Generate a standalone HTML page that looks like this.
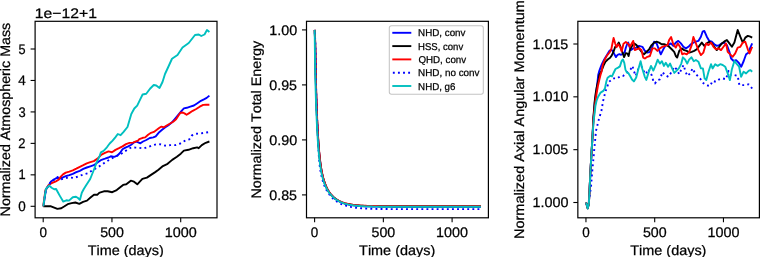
<!DOCTYPE html>
<html><head><meta charset="utf-8"><style>
html,body{margin:0;padding:0;background:#fff;}
svg{display:block;}
text{font-family:"Liberation Sans",sans-serif;fill:#000;font-kerning:none;text-rendering:geometricPrecision;stroke:#000;stroke-width:0.25px;}
svg{will-change:transform;}
</style></head><body>
<svg width="760" height="257" viewBox="0 0 760 257">
<rect x="35.10" y="21.30" width="181.90" height="196.50" fill="none" stroke="#000" stroke-width="1.2" stroke-linejoin="miter"/>
<line x1="43.20" y1="217.80" x2="43.20" y2="222.30" stroke="#000" stroke-width="1.1"/>
<text x="39.44" y="237.00" font-size="13.8" textLength="7.50" lengthAdjust="spacingAndGlyphs">0</text>
<line x1="111.95" y1="217.80" x2="111.95" y2="222.30" stroke="#000" stroke-width="1.1"/>
<text x="100.15" y="237.00" font-size="13.8" textLength="23.72" lengthAdjust="spacingAndGlyphs">500</text>
<line x1="180.70" y1="217.80" x2="180.70" y2="222.30" stroke="#000" stroke-width="1.1"/>
<text x="164.72" y="237.00" font-size="13.8" textLength="31.98" lengthAdjust="spacingAndGlyphs">1000</text>
<text x="87.69" y="254.50" font-size="13.8" textLength="76.14" lengthAdjust="spacingAndGlyphs">Time (days)</text>
<rect x="306.50" y="21.30" width="181.90" height="196.50" fill="none" stroke="#000" stroke-width="1.2" stroke-linejoin="miter"/>
<line x1="314.60" y1="217.80" x2="314.60" y2="222.30" stroke="#000" stroke-width="1.1"/>
<text x="310.84" y="237.00" font-size="13.8" textLength="7.50" lengthAdjust="spacingAndGlyphs">0</text>
<line x1="383.35" y1="217.80" x2="383.35" y2="222.30" stroke="#000" stroke-width="1.1"/>
<text x="371.55" y="237.00" font-size="13.8" textLength="23.72" lengthAdjust="spacingAndGlyphs">500</text>
<line x1="452.10" y1="217.80" x2="452.10" y2="222.30" stroke="#000" stroke-width="1.1"/>
<text x="436.12" y="237.00" font-size="13.8" textLength="31.98" lengthAdjust="spacingAndGlyphs">1000</text>
<text x="359.09" y="254.50" font-size="13.8" textLength="76.14" lengthAdjust="spacingAndGlyphs">Time (days)</text>
<rect x="577.85" y="21.30" width="181.55" height="196.50" fill="none" stroke="#000" stroke-width="1.2" stroke-linejoin="miter"/>
<line x1="585.95" y1="217.80" x2="585.95" y2="222.30" stroke="#000" stroke-width="1.1"/>
<text x="582.19" y="237.00" font-size="13.8" textLength="7.50" lengthAdjust="spacingAndGlyphs">0</text>
<line x1="654.70" y1="217.80" x2="654.70" y2="222.30" stroke="#000" stroke-width="1.1"/>
<text x="642.90" y="237.00" font-size="13.8" textLength="23.72" lengthAdjust="spacingAndGlyphs">500</text>
<line x1="723.45" y1="217.80" x2="723.45" y2="222.30" stroke="#000" stroke-width="1.1"/>
<text x="707.47" y="237.00" font-size="13.8" textLength="31.98" lengthAdjust="spacingAndGlyphs">1000</text>
<text x="630.27" y="254.50" font-size="13.8" textLength="76.14" lengthAdjust="spacingAndGlyphs">Time (days)</text>
<line x1="30.60" y1="206.30" x2="35.10" y2="206.30" stroke="#000" stroke-width="1.1"/>
<text x="18.27" y="210.90" font-size="13.8" textLength="7.50" lengthAdjust="spacingAndGlyphs">0</text>
<line x1="30.60" y1="174.84" x2="35.10" y2="174.84" stroke="#000" stroke-width="1.1"/>
<text x="18.38" y="179.44" font-size="13.8" textLength="7.17" lengthAdjust="spacingAndGlyphs">1</text>
<line x1="30.60" y1="143.38" x2="35.10" y2="143.38" stroke="#000" stroke-width="1.1"/>
<text x="18.24" y="147.98" font-size="13.8" textLength="7.23" lengthAdjust="spacingAndGlyphs">2</text>
<line x1="30.60" y1="111.92" x2="35.10" y2="111.92" stroke="#000" stroke-width="1.1"/>
<text x="18.44" y="116.52" font-size="13.8" textLength="7.21" lengthAdjust="spacingAndGlyphs">3</text>
<line x1="30.60" y1="80.46" x2="35.10" y2="80.46" stroke="#000" stroke-width="1.1"/>
<text x="18.27" y="85.06" font-size="13.8" textLength="7.51" lengthAdjust="spacingAndGlyphs">4</text>
<line x1="30.60" y1="49.00" x2="35.10" y2="49.00" stroke="#000" stroke-width="1.1"/>
<text x="18.43" y="53.60" font-size="13.8" textLength="7.08" lengthAdjust="spacingAndGlyphs">5</text>
<line x1="302.00" y1="29.90" x2="306.50" y2="29.90" stroke="#000" stroke-width="1.1"/>
<text x="269.31" y="34.50" font-size="13.8" textLength="27.90" lengthAdjust="spacingAndGlyphs">1.00</text>
<line x1="302.00" y1="84.90" x2="306.50" y2="84.90" stroke="#000" stroke-width="1.1"/>
<text x="269.29" y="89.50" font-size="13.8" textLength="27.69" lengthAdjust="spacingAndGlyphs">0.95</text>
<line x1="302.00" y1="139.90" x2="306.50" y2="139.90" stroke="#000" stroke-width="1.1"/>
<text x="269.28" y="144.50" font-size="13.8" textLength="27.93" lengthAdjust="spacingAndGlyphs">0.90</text>
<line x1="302.00" y1="194.90" x2="306.50" y2="194.90" stroke="#000" stroke-width="1.1"/>
<text x="269.29" y="199.50" font-size="13.8" textLength="27.69" lengthAdjust="spacingAndGlyphs">0.85</text>
<line x1="573.35" y1="44.00" x2="577.85" y2="44.00" stroke="#000" stroke-width="1.1"/>
<text x="532.52" y="48.60" font-size="13.8" textLength="35.81" lengthAdjust="spacingAndGlyphs">1.015</text>
<line x1="573.35" y1="96.83" x2="577.85" y2="96.83" stroke="#000" stroke-width="1.1"/>
<text x="532.52" y="101.43" font-size="13.8" textLength="36.05" lengthAdjust="spacingAndGlyphs">1.010</text>
<line x1="573.35" y1="149.67" x2="577.85" y2="149.67" stroke="#000" stroke-width="1.1"/>
<text x="532.52" y="154.27" font-size="13.8" textLength="35.81" lengthAdjust="spacingAndGlyphs">1.005</text>
<line x1="573.35" y1="202.50" x2="577.85" y2="202.50" stroke="#000" stroke-width="1.1"/>
<text x="532.52" y="207.10" font-size="13.8" textLength="36.05" lengthAdjust="spacingAndGlyphs">1.000</text>
<text transform="translate(9.90,119.55) rotate(-90)" x="-96.86" y="0" font-size="13.8" textLength="193.69" lengthAdjust="spacingAndGlyphs">Normalized Atmospheric Mass</text>
<text transform="translate(260.60,119.55) rotate(-90)" x="-78.95" y="0" font-size="13.8" textLength="157.62" lengthAdjust="spacingAndGlyphs">Normalized Total Energy</text>
<text transform="translate(523.50,119.55) rotate(-90)" x="-119.43" y="0" font-size="13.8" textLength="238.80" lengthAdjust="spacingAndGlyphs">Normalized Axial Angular Momentum</text>
<text x="34.80" y="17.70" font-size="13.8" textLength="62.17" lengthAdjust="spacingAndGlyphs">1e−12+1</text>
<path d="M43.40,206.30 L45.90,189.60 L48.70,185.40 L51.00,181.50 L53.60,179.80 L56.10,178.20 L58.00,177.80 L60.00,178.60 L62.90,177.40 L65.80,176.20 L69.30,175.10 L72.80,173.90 L76.30,172.20 L79.80,170.80 L83.30,168.90 L86.80,167.50 L90.30,166.30 L93.80,165.20 L97.50,162.50 L101.50,159.80 L105.00,158.70 L108.50,157.50 L110.80,156.30 L114.30,156.90 L117.20,155.70 L120.20,152.80 L122.50,149.30 L125.40,147.60 L128.30,146.40 L131.20,144.70 L134.20,142.30 L136.50,141.70 L140.40,143.30 L143.00,141.50 L146.30,140.00 L149.80,138.00 L153.30,137.40 L155.70,136.30 L158.60,132.80 L162.10,129.80 L165.00,127.50 L168.50,125.20 L172.00,122.30 L175.60,118.00 L178.70,114.30 L181.60,110.80 L183.90,108.40 L186.80,107.80 L190.30,106.70 L193.90,105.50 L197.40,103.20 L200.90,100.80 L204.40,99.10 L206.70,97.90 L209.40,95.60" fill="none" stroke="#0000ff" stroke-width="1.9" stroke-linejoin="round"/>
<path d="M43.30,206.30 L47.10,206.30 L51.00,206.30 L54.20,207.60 L57.40,208.90 L61.30,208.30 L64.50,206.30 L67.70,204.20 L71.60,203.10 L75.40,202.50 L79.30,203.80 L83.10,201.80 L87.00,200.60 L90.80,197.30 L94.00,194.80 L97.20,194.80 L99.20,192.80 L100.50,192.40 L103.90,191.30 L107.70,191.30 L112.20,192.20 L116.70,190.10 L119.90,187.50 L123.10,184.90 L126.30,184.30 L130.80,180.70 L134.00,181.70 L137.30,184.30 L139.80,181.70 L142.40,178.90 L146.90,177.60 L151.40,174.60 L155.20,172.10 L158.50,169.80 L162.90,166.10 L167.60,163.80 L172.20,159.90 L176.90,156.80 L180.80,153.70 L183.90,150.60 L188.50,149.80 L193.20,148.20 L197.10,147.40 L198.70,148.20 L201.80,145.10 L205.70,142.80 L209.40,141.50" fill="none" stroke="#000000" stroke-width="1.9" stroke-linejoin="round"/>
<path d="M43.20,206.30 L45.40,190.30 L48.50,185.30 L51.80,183.00 L55.30,181.70 L58.70,179.60 L60.80,176.60 L63.00,174.40 L65.80,172.60 L69.30,171.60 L72.80,170.40 L76.30,168.70 L79.80,166.90 L83.30,165.20 L86.80,163.40 L90.30,162.20 L93.80,161.10 L97.50,158.60 L101.50,154.60 L105.00,152.80 L108.50,151.40 L112.00,152.20 L115.50,149.90 L119.00,148.20 L122.50,146.40 L126.00,144.10 L129.50,142.90 L133.00,142.60 L135.30,141.70 L138.00,140.60 L139.30,139.20 L142.80,137.80 L145.20,137.40 L148.10,134.70 L151.00,132.80 L153.90,131.90 L156.80,129.80 L159.80,127.50 L161.50,126.60 L163.90,127.30 L166.20,125.80 L169.70,123.80 L173.20,121.70 L176.10,119.30 L178.50,115.60 L180.40,112.70 L182.80,112.50 L184.50,113.40 L186.60,114.80 L189.20,113.10 L192.70,110.80 L196.20,109.00 L199.70,106.70 L203.20,104.90 L206.10,104.70 L209.40,104.70" fill="none" stroke="#ff0000" stroke-width="1.9" stroke-linejoin="round"/>
<path d="M43.40,206.30 L45.90,189.60 L48.70,185.40 L51.00,181.50 L54.60,179.30 L57.50,177.00 L60.40,179.50 L64.00,178.40 L68.70,177.40 L74.00,178.00 L78.70,176.20 L83.30,174.50 L88.00,173.30 L92.10,170.40 L98.60,166.80 L103.60,163.40 L109.00,160.00 L114.00,157.10 L118.50,155.00 L123.00,152.80 L127.50,149.50 L131.50,147.30 L135.50,147.60 L139.00,147.80 L143.80,148.40 L148.80,146.70 L152.50,145.30 L155.30,144.60 L160.40,144.30 L165.00,145.60 L170.30,145.10 L175.20,145.10 L180.40,143.50 L184.50,141.00 L189.40,139.30 L191.80,135.50 L196.10,133.80 L201.00,133.40 L205.80,132.60 L209.40,132.00" fill="none" stroke="#0000ff" stroke-width="1.9" stroke-linejoin="round" stroke-dasharray="1.9,3.2" stroke-dashoffset="1.88"/>
<path d="M43.30,206.30 L45.90,189.00 L49.10,185.60 L51.60,187.70 L54.20,189.30 L56.10,189.00 L58.00,192.50 L60.00,196.10 L63.20,201.60 L66.40,200.30 L69.00,200.60 L72.80,197.30 L76.00,196.70 L78.00,198.00 L79.90,199.90 L81.80,192.80 L83.80,189.00 L86.30,185.10 L90.20,179.00 L93.60,170.50 L96.90,161.80 L99.40,156.70 L100.90,152.30 L103.60,150.80 L106.90,147.30 L109.70,143.50 L112.60,140.60 L115.50,137.10 L117.80,134.00 L120.60,135.20 L123.60,131.80 L127.50,127.00 L129.40,120.50 L131.30,114.00 L134.30,108.50 L137.20,105.60 L140.10,99.70 L142.60,94.50 L146.25,93.75 L150.00,88.75 L153.75,85.00 L156.25,85.50 L159.50,88.00 L162.50,82.00 L165.00,74.00 L168.25,67.00 L172.00,58.75 L177.50,55.00 L182.50,47.50 L188.75,43.00 L195.00,35.00 L198.75,34.50 L201.25,36.00 L204.50,34.50 L207.00,30.00 L209.40,32.00" fill="none" stroke="#00bfbf" stroke-width="1.9" stroke-linejoin="round"/>
<path d="M314.70,29.90 L315.09,40.99 L315.30,50.10 L315.40,57.76 L315.50,64.32 L315.60,70.06 L315.70,75.18 L315.80,79.80 L315.90,84.04 L316.00,87.96 L316.10,91.63 L316.20,95.08 L316.30,98.35 L316.40,101.45 L316.50,104.41 L316.60,107.23 L316.70,109.94 L316.80,112.53 L316.90,115.02 L317.00,117.42 L317.10,119.72 L317.20,121.94 L317.30,124.07 L317.40,126.12 L317.50,128.10 L317.60,130.01 L317.70,131.85 L317.80,133.63 L317.90,135.34 L318.00,136.99 L318.10,138.58 L318.20,140.12 L318.30,141.61 L318.40,143.04 L318.50,144.43 L318.60,145.77 L318.70,147.06 L318.80,148.31 L318.90,149.53 L319.00,150.70 L319.10,151.83 L319.20,152.92 L319.30,153.99 L319.40,155.01 L319.50,156.01 L319.60,156.97 L319.70,157.91 L319.80,158.81 L319.90,159.69 L320.00,160.54 L320.10,161.36 L320.20,162.17 L320.30,162.94 L320.40,163.70 L320.40,163.70 L320.65,165.49 L320.90,167.16 L321.15,168.72 L321.40,170.18 L321.65,171.54 L321.90,172.82 L322.15,174.02 L322.40,175.15 L322.65,176.22 L322.90,177.22 L323.15,178.18 L323.40,179.08 L323.65,179.94 L323.90,180.75 L324.15,181.53 L324.40,182.27 L324.65,182.98 L324.90,183.66 L325.15,184.31 L325.40,184.93 L325.64,185.53 L325.87,186.10 L326.11,186.65 L326.34,187.19 L326.58,187.70 L326.81,188.19 L327.05,188.67 L327.29,189.14 L327.53,189.58 L327.77,190.02 L328.01,190.44 L328.24,190.84 L328.48,191.24 L328.72,191.62 L328.96,191.99 L329.20,192.35 L329.44,192.70 L329.69,193.04 L329.93,193.38 L330.17,193.70 L330.41,194.01 L330.65,194.32 L330.89,194.62 L331.14,194.91 L331.38,195.19 L331.62,195.46 L331.86,195.73 L332.11,195.99 L332.35,196.25 L332.59,196.50 L332.84,196.74 L333.08,196.97 L333.32,197.20 L333.57,197.43 L333.81,197.65 L334.06,197.86 L334.30,198.07 L334.55,198.27 L334.79,198.47 L335.04,198.67 L335.28,198.86 L335.53,199.04 L335.77,199.22 L336.02,199.40 L336.26,199.57 L336.51,199.74 L336.75,199.90 L337.00,200.06 L337.25,200.22 L337.50,200.37 L337.75,200.52 L338.00,200.66 L338.25,200.80 L338.50,200.94 L338.75,201.08 L339.00,201.21 L339.25,201.34 L339.50,201.46 L339.75,201.59 L340.00,201.71 L341.00,202.16 L342.00,202.57 L343.00,202.95 L344.00,203.29 L345.00,203.60 L346.00,203.88 L347.00,204.13 L348.00,204.37 L349.00,204.58 L350.00,204.77 L351.00,204.95 L352.00,205.11 L353.00,205.25 L354.00,205.39 L355.00,205.51 L356.00,205.62 L357.00,205.72 L358.00,205.81 L359.00,205.89 L360.00,205.96 L361.00,206.03 L362.00,206.09 L363.00,206.15 L364.00,206.20 L365.00,206.25 L366.00,206.29 L367.00,206.33 L368.00,206.36 L369.00,206.39 L370.00,206.42 L371.00,206.45 L372.00,206.47 L373.00,206.50 L374.00,206.52 L375.00,206.53 L376.00,206.55 L377.00,206.56 L378.00,206.58 L379.00,206.59 L380.00,206.60 L381.00,206.61 L382.00,206.62 L383.00,206.63 L384.00,206.64 L385.00,206.64 L386.00,206.65 L387.00,206.66 L388.00,206.66 L389.00,206.67 L390.00,206.67 L391.00,206.67 L392.00,206.68 L393.00,206.68 L394.00,206.68 L395.00,206.69 L396.00,206.69 L397.00,206.69 L398.00,206.69 L399.00,206.69 L400.00,206.69 L404.00,206.70 L408.00,206.70 L412.00,206.71 L416.00,206.71 L420.00,206.71 L424.00,206.71 L428.00,206.71 L432.00,206.71 L436.00,206.71 L440.00,206.71 L444.00,206.71 L448.00,206.71 L452.00,206.71 L456.00,206.71 L460.00,206.71 L464.00,206.71 L468.00,206.71 L472.00,206.71 L476.00,206.71 L480.00,206.71 L480.80,206.71" fill="none" stroke="#0000ff" stroke-width="1.9" stroke-linejoin="round"/>
<path d="M314.70,29.90 L315.09,40.99 L315.30,50.10 L315.40,57.75 L315.50,64.32 L315.60,70.06 L315.70,75.17 L315.80,79.79 L315.90,84.03 L316.00,87.95 L316.10,91.62 L316.20,95.06 L316.30,98.33 L316.40,101.43 L316.50,104.38 L316.60,107.21 L316.70,109.91 L316.80,112.51 L316.90,115.00 L317.00,117.39 L317.10,119.69 L317.20,121.90 L317.30,124.03 L317.40,126.09 L317.50,128.07 L317.60,129.97 L317.70,131.81 L317.80,133.58 L317.90,135.29 L318.00,136.94 L318.10,138.54 L318.20,140.07 L318.30,141.56 L318.40,142.99 L318.50,144.38 L318.60,145.71 L318.70,147.01 L318.80,148.26 L318.90,149.47 L319.00,150.64 L319.10,151.77 L319.20,152.86 L319.30,153.92 L319.40,154.95 L319.50,155.94 L319.60,156.90 L319.70,157.84 L319.80,158.74 L319.90,159.62 L320.00,160.47 L320.10,161.29 L320.20,162.09 L320.30,162.87 L320.40,163.62 L320.40,163.62 L320.65,165.41 L320.90,167.08 L321.15,168.63 L321.40,170.08 L321.65,171.44 L321.90,172.72 L322.15,173.92 L322.40,175.04 L322.65,176.11 L322.90,177.11 L323.15,178.06 L323.40,178.96 L323.65,179.82 L323.90,180.63 L324.15,181.40 L324.40,182.14 L324.65,182.85 L324.90,183.52 L325.15,184.17 L325.40,184.79 L325.64,185.38 L325.87,185.95 L326.11,186.50 L326.35,187.03 L326.58,187.54 L326.82,188.04 L327.06,188.51 L327.29,188.97 L327.53,189.42 L327.77,189.85 L328.01,190.27 L328.25,190.67 L328.49,191.06 L328.73,191.44 L328.97,191.81 L329.21,192.17 L329.45,192.52 L329.69,192.86 L329.93,193.19 L330.17,193.51 L330.41,193.82 L330.66,194.12 L330.90,194.42 L331.14,194.70 L331.38,194.98 L331.63,195.26 L331.87,195.52 L332.11,195.78 L332.36,196.03 L332.60,196.28 L332.84,196.52 L333.09,196.75 L333.33,196.98 L333.57,197.21 L333.82,197.42 L334.06,197.63 L334.31,197.84 L334.55,198.04 L334.80,198.24 L335.04,198.43 L335.29,198.62 L335.53,198.80 L335.78,198.98 L336.02,199.15 L336.27,199.32 L336.51,199.49 L336.76,199.65 L337.01,199.81 L337.25,199.96 L337.50,200.11 L337.75,200.26 L338.00,200.40 L338.25,200.54 L338.50,200.68 L338.75,200.81 L339.00,200.95 L339.25,201.07 L339.50,201.20 L339.75,201.32 L340.00,201.44 L341.00,201.88 L342.00,202.29 L343.00,202.66 L344.00,202.99 L345.00,203.30 L346.00,203.57 L347.00,203.82 L348.00,204.05 L349.00,204.26 L350.00,204.45 L351.00,204.62 L352.00,204.77 L353.00,204.92 L354.00,205.04 L355.00,205.16 L356.00,205.27 L357.00,205.36 L358.00,205.45 L359.00,205.53 L360.00,205.60 L361.00,205.66 L362.00,205.72 L363.00,205.78 L364.00,205.83 L365.00,205.87 L366.00,205.91 L367.00,205.95 L368.00,205.98 L369.00,206.01 L370.00,206.03 L371.00,206.06 L372.00,206.08 L373.00,206.10 L374.00,206.12 L375.00,206.13 L376.00,206.15 L377.00,206.16 L378.00,206.17 L379.00,206.18 L380.00,206.19 L381.00,206.20 L382.00,206.21 L383.00,206.22 L384.00,206.22 L385.00,206.23 L386.00,206.23 L387.00,206.24 L388.00,206.24 L389.00,206.25 L390.00,206.25 L391.00,206.25 L392.00,206.25 L393.00,206.26 L394.00,206.26 L395.00,206.26 L396.00,206.26 L397.00,206.26 L398.00,206.26 L399.00,206.26 L400.00,206.27 L404.00,206.27 L408.00,206.27 L412.00,206.27 L416.00,206.27 L420.00,206.27 L424.00,206.27 L428.00,206.27 L432.00,206.26 L436.00,206.26 L440.00,206.26 L444.00,206.26 L448.00,206.26 L452.00,206.26 L456.00,206.26 L460.00,206.26 L464.00,206.26 L468.00,206.26 L472.00,206.26 L476.00,206.26 L480.00,206.26 L480.80,206.26" fill="none" stroke="#000000" stroke-width="1.9" stroke-linejoin="round"/>
<path d="M314.70,29.90 L315.17,40.99 L315.40,50.10 L315.50,57.75 L315.60,64.31 L315.70,70.05 L315.80,75.16 L315.90,79.79 L316.00,84.02 L316.10,87.95 L316.20,91.61 L316.30,95.06 L316.40,98.32 L316.50,101.42 L316.60,104.38 L316.70,107.20 L316.80,109.91 L316.90,112.50 L317.00,114.99 L317.10,117.38 L317.20,119.68 L317.30,121.90 L317.40,124.03 L317.50,126.08 L317.60,128.06 L317.70,129.96 L317.80,131.80 L317.90,133.57 L318.00,135.28 L318.10,136.93 L318.20,138.53 L318.30,140.06 L318.40,141.55 L318.50,142.98 L318.60,144.36 L318.70,145.70 L318.80,147.00 L318.90,148.25 L319.00,149.45 L319.10,150.62 L319.20,151.75 L319.30,152.85 L319.40,153.91 L319.50,154.93 L319.60,155.93 L319.70,156.89 L319.80,157.82 L319.90,158.72 L320.00,159.60 L320.10,160.45 L320.20,161.27 L320.30,162.07 L320.40,162.85 L320.50,163.60 L320.50,163.60 L320.75,165.39 L321.00,167.06 L321.25,168.61 L321.50,170.06 L321.75,171.42 L322.00,172.70 L322.25,173.89 L322.50,175.02 L322.75,176.08 L323.00,177.09 L323.25,178.04 L323.50,178.94 L323.75,179.79 L324.00,180.60 L324.25,181.38 L324.50,182.11 L324.75,182.82 L325.00,183.49 L325.25,184.14 L325.50,184.76 L325.74,185.35 L325.97,185.92 L326.20,186.47 L326.43,187.00 L326.67,187.51 L326.90,188.00 L327.13,188.48 L327.37,188.94 L327.60,189.38 L327.84,189.81 L328.08,190.23 L328.31,190.63 L328.55,191.02 L328.79,191.40 L329.02,191.77 L329.26,192.13 L329.50,192.48 L329.74,192.82 L329.98,193.14 L330.22,193.46 L330.46,193.78 L330.70,194.08 L330.94,194.37 L331.18,194.66 L331.42,194.94 L331.66,195.21 L331.90,195.48 L332.14,195.74 L332.38,195.99 L332.63,196.23 L332.87,196.47 L333.11,196.71 L333.35,196.93 L333.59,197.16 L333.84,197.37 L334.08,197.58 L334.32,197.79 L334.57,197.99 L334.81,198.19 L335.05,198.38 L335.30,198.57 L335.54,198.75 L335.79,198.93 L336.03,199.10 L336.27,199.27 L336.52,199.43 L336.76,199.60 L337.01,199.75 L337.25,199.91 L337.50,200.06 L337.75,200.20 L338.00,200.35 L338.25,200.49 L338.50,200.62 L338.75,200.76 L339.00,200.89 L339.25,201.01 L339.50,201.14 L339.75,201.26 L340.00,201.38 L341.00,201.82 L342.00,202.23 L343.00,202.59 L344.00,202.93 L345.00,203.23 L346.00,203.50 L347.00,203.75 L348.00,203.98 L349.00,204.19 L350.00,204.38 L351.00,204.55 L352.00,204.70 L353.00,204.84 L354.00,204.97 L355.00,205.08 L356.00,205.19 L357.00,205.28 L358.00,205.37 L359.00,205.45 L360.00,205.52 L361.00,205.58 L362.00,205.64 L363.00,205.69 L364.00,205.74 L365.00,205.79 L366.00,205.82 L367.00,205.86 L368.00,205.89 L369.00,205.92 L370.00,205.95 L371.00,205.97 L372.00,205.99 L373.00,206.01 L374.00,206.03 L375.00,206.04 L376.00,206.06 L377.00,206.07 L378.00,206.08 L379.00,206.09 L380.00,206.10 L381.00,206.11 L382.00,206.12 L383.00,206.12 L384.00,206.13 L385.00,206.14 L386.00,206.14 L387.00,206.15 L388.00,206.15 L389.00,206.15 L390.00,206.15 L391.00,206.16 L392.00,206.16 L393.00,206.16 L394.00,206.16 L395.00,206.16 L396.00,206.17 L397.00,206.17 L398.00,206.17 L399.00,206.17 L400.00,206.17 L404.00,206.17 L408.00,206.17 L412.00,206.17 L416.00,206.17 L420.00,206.17 L424.00,206.17 L428.00,206.17 L432.00,206.17 L436.00,206.17 L440.00,206.16 L444.00,206.16 L448.00,206.16 L452.00,206.16 L456.00,206.16 L460.00,206.16 L464.00,206.16 L468.00,206.16 L472.00,206.16 L476.00,206.16 L480.00,206.16 L480.80,206.16" fill="none" stroke="#ff0000" stroke-width="1.9" stroke-linejoin="round"/>
<path d="M314.70,29.90 L315.29,42.25 L315.50,52.32 L315.60,60.70 L315.70,67.82 L315.80,73.99 L315.90,79.45 L316.00,84.34 L316.10,88.79 L316.20,92.89 L316.30,96.69 L316.40,100.26 L316.50,103.61 L316.60,106.78 L316.70,109.79 L316.80,112.66 L316.90,115.39 L317.00,118.01 L317.10,120.51 L317.20,122.91 L317.30,125.20 L317.40,127.41 L317.50,129.53 L317.60,131.56 L317.70,133.51 L317.80,135.39 L317.90,137.19 L318.00,138.93 L318.09,140.60 L318.15,142.21 L318.21,143.76 L318.27,145.25 L318.34,146.68 L318.41,148.06 L318.47,149.40 L318.54,150.68 L318.61,151.92 L318.69,153.12 L318.76,154.27 L318.83,155.38 L318.91,156.45 L318.98,157.49 L319.06,158.49 L319.13,159.46 L319.21,160.40 L319.29,161.30 L319.37,162.18 L319.45,163.02 L319.53,163.84 L319.61,164.63 L319.70,165.40 L319.80,166.14 L319.90,166.87 L320.00,167.56 L320.00,167.56 L320.25,169.22 L320.50,170.76 L320.75,172.19 L321.00,173.52 L321.25,174.76 L321.50,175.93 L321.75,177.02 L322.00,178.05 L322.25,179.02 L322.50,179.94 L322.75,180.80 L323.00,181.62 L323.25,182.40 L323.50,183.15 L323.75,183.85 L324.00,184.53 L324.25,185.18 L324.50,185.80 L324.75,186.39 L325.00,186.96 L325.25,187.52 L325.50,188.05 L325.75,188.56 L326.00,189.05 L326.25,189.53 L326.50,189.99 L326.75,190.44 L327.00,190.87 L327.25,191.30 L327.50,191.71 L327.75,192.10 L328.00,192.49 L328.25,192.86 L328.50,193.23 L328.75,193.59 L329.00,193.93 L329.25,194.27 L329.50,194.60 L329.75,194.92 L330.00,195.23 L330.25,195.54 L330.50,195.84 L330.75,196.13 L331.00,196.41 L331.25,196.69 L331.50,196.96 L331.75,197.23 L332.00,197.49 L332.25,197.74 L332.50,197.99 L332.75,198.23 L333.00,198.46 L333.25,198.69 L333.50,198.92 L333.75,199.14 L334.00,199.36 L334.25,199.57 L334.50,199.77 L334.75,199.98 L335.00,200.17 L335.25,200.37 L335.50,200.56 L335.75,200.74 L336.00,200.92 L336.25,201.10 L336.50,201.27 L336.75,201.44 L337.00,201.61 L337.25,201.77 L337.50,201.93 L337.75,202.08 L338.00,202.23 L338.25,202.38 L338.50,202.53 L338.75,202.67 L339.00,202.81 L339.25,202.95 L339.50,203.08 L339.75,203.21 L340.00,203.34 L341.00,203.82 L342.00,204.26 L343.00,204.67 L344.00,205.04 L345.00,205.38 L346.00,205.70 L347.00,205.99 L348.00,206.25 L349.00,206.49 L350.00,206.71 L351.00,206.92 L352.00,207.10 L353.00,207.27 L354.00,207.43 L355.00,207.57 L356.00,207.71 L357.00,207.83 L358.00,207.94 L359.00,208.04 L360.00,208.13 L361.00,208.22 L362.00,208.30 L363.00,208.37 L364.00,208.44 L365.00,208.50 L366.00,208.55 L367.00,208.60 L368.00,208.65 L369.00,208.69 L370.00,208.73 L371.00,208.77 L372.00,208.80 L373.00,208.83 L374.00,208.86 L375.00,208.88 L376.00,208.91 L377.00,208.93 L378.00,208.95 L379.00,208.97 L380.00,208.98 L381.00,209.00 L382.00,209.01 L383.00,209.02 L384.00,209.04 L385.00,209.05 L386.00,209.06 L387.00,209.07 L388.00,209.07 L389.00,209.08 L390.00,209.09 L391.00,209.10 L392.00,209.10 L393.00,209.11 L394.00,209.11 L395.00,209.12 L396.00,209.12 L397.00,209.12 L398.00,209.13 L399.00,209.13 L400.00,209.13 L404.00,209.14 L408.00,209.15 L412.00,209.15 L416.00,209.16 L420.00,209.16 L424.00,209.16 L428.00,209.16 L432.00,209.16 L436.00,209.16 L440.00,209.17 L444.00,209.17 L448.00,209.17 L452.00,209.17 L456.00,209.17 L460.00,209.17 L464.00,209.17 L468.00,209.17 L472.00,209.17 L476.00,209.17 L480.00,209.17 L480.80,209.17" fill="none" stroke="#0000ff" stroke-width="1.9" stroke-linejoin="round" stroke-dasharray="1.9,3.2" stroke-dashoffset="2.57"/>
<path d="M314.70,29.90 L314.80,40.99 L314.90,50.10 L315.00,57.76 L315.10,64.32 L315.20,70.07 L315.30,75.18 L315.40,79.80 L315.50,84.04 L315.60,87.97 L315.70,91.63 L315.80,95.09 L315.90,98.35 L316.00,101.45 L316.10,104.41 L316.20,107.24 L316.30,109.94 L316.40,112.54 L316.50,115.03 L316.60,117.42 L316.70,119.73 L316.80,121.94 L316.90,124.08 L317.00,126.13 L317.10,128.11 L317.20,130.02 L317.30,131.86 L317.40,133.64 L317.50,135.35 L317.60,137.00 L317.70,138.59 L317.80,140.13 L317.90,141.62 L318.00,143.05 L318.10,144.44 L318.20,145.78 L318.30,147.08 L318.40,148.33 L318.50,149.54 L318.60,150.71 L318.70,151.84 L318.80,152.94 L318.90,154.00 L319.00,155.03 L319.10,156.02 L319.20,156.99 L319.30,157.92 L319.40,158.83 L319.50,159.70 L319.60,160.56 L319.70,161.38 L319.80,162.18 L319.90,162.96 L320.00,163.72 L320.00,163.72 L320.25,165.51 L320.50,167.18 L320.75,168.74 L321.00,170.20 L321.25,171.56 L321.50,172.84 L321.75,174.04 L322.00,175.17 L322.25,176.24 L322.50,177.25 L322.75,178.20 L323.00,179.11 L323.25,179.96 L323.50,180.78 L323.75,181.56 L324.00,182.30 L324.25,183.01 L324.50,183.69 L324.75,184.34 L325.00,184.96 L325.25,185.56 L325.50,186.13 L325.75,186.69 L326.00,187.22 L326.25,187.73 L326.50,188.23 L326.75,188.71 L327.00,189.17 L327.25,189.62 L327.50,190.05 L327.75,190.47 L328.00,190.88 L328.25,191.28 L328.50,191.66 L328.75,192.03 L329.00,192.39 L329.25,192.74 L329.50,193.09 L329.75,193.42 L330.00,193.74 L330.25,194.06 L330.50,194.36 L330.75,194.66 L331.00,194.95 L331.25,195.23 L331.50,195.51 L331.75,195.78 L332.00,196.04 L332.25,196.29 L332.50,196.54 L332.75,196.79 L333.00,197.02 L333.25,197.25 L333.50,197.48 L333.75,197.70 L334.00,197.91 L334.25,198.12 L334.50,198.32 L334.75,198.52 L335.00,198.72 L335.25,198.91 L335.50,199.09 L335.75,199.27 L336.00,199.45 L336.25,199.62 L336.50,199.79 L336.75,199.95 L337.00,200.11 L337.25,200.27 L337.50,200.42 L337.75,200.57 L338.00,200.72 L338.25,200.86 L338.50,201.00 L338.75,201.14 L339.00,201.27 L339.25,201.40 L339.50,201.52 L339.75,201.65 L340.00,201.77 L341.00,202.22 L342.00,202.63 L343.00,203.01 L344.00,203.35 L345.00,203.66 L346.00,203.95 L347.00,204.20 L348.00,204.44 L349.00,204.65 L350.00,204.85 L351.00,205.02 L352.00,205.18 L353.00,205.33 L354.00,205.46 L355.00,205.58 L356.00,205.69 L357.00,205.79 L358.00,205.89 L359.00,205.97 L360.00,206.04 L361.00,206.11 L362.00,206.18 L363.00,206.23 L364.00,206.28 L365.00,206.33 L366.00,206.37 L367.00,206.41 L368.00,206.45 L369.00,206.48 L370.00,206.51 L371.00,206.54 L372.00,206.56 L373.00,206.58 L374.00,206.60 L375.00,206.62 L376.00,206.64 L377.00,206.65 L378.00,206.67 L379.00,206.68 L380.00,206.69 L381.00,206.70 L382.00,206.71 L383.00,206.72 L384.00,206.73 L385.00,206.74 L386.00,206.74 L387.00,206.75 L388.00,206.75 L389.00,206.76 L390.00,206.76 L391.00,206.77 L392.00,206.77 L393.00,206.77 L394.00,206.78 L395.00,206.78 L396.00,206.78 L397.00,206.78 L398.00,206.79 L399.00,206.79 L400.00,206.79 L404.00,206.80 L408.00,206.80 L412.00,206.80 L416.00,206.80 L420.00,206.81 L424.00,206.81 L428.00,206.81 L432.00,206.81 L436.00,206.81 L440.00,206.81 L444.00,206.81 L448.00,206.81 L452.00,206.81 L456.00,206.81 L460.00,206.81 L464.00,206.81 L468.00,206.81 L472.00,206.81 L476.00,206.81 L480.00,206.81 L480.80,206.81" fill="none" stroke="#00bfbf" stroke-width="1.9" stroke-linejoin="round"/>
<path d="M586.10,202.50 L587.70,208.30 L588.90,203.40 L590.50,170.00 L592.70,133.00 L593.50,118.00 L594.20,110.00 L594.90,102.00 L595.90,94.00 L597.00,86.00 L597.80,79.00 L598.20,75.00 L599.40,70.60 L600.90,66.70 L601.90,64.10 L604.20,59.50 L607.10,54.80 L609.50,50.70 L611.20,49.60 L613.00,51.30 L614.70,54.80 L615.90,57.10 L617.60,54.80 L619.40,54.20 L621.10,54.80 L622.90,53.70 L624.60,52.50 L625.80,47.80 L627.00,44.50 L628.20,42.60 L630.70,50.10 L633.20,48.40 L636.50,47.60 L639.00,45.90 L642.40,46.80 L644.90,50.90 L647.40,52.60 L649.90,51.80 L652.40,46.80 L654.10,41.70 L656.60,43.40 L659.10,50.10 L660.80,54.30 L663.30,49.30 L665.80,45.10 L668.30,45.10 L670.80,43.40 L673.30,45.90 L675.80,42.60 L678.30,40.90 L680.90,43.40 L683.40,46.80 L685.90,48.40 L688.40,46.80 L690.90,44.20 L693.40,42.60 L695.90,41.70 L698.40,40.90 L700.90,36.70 L702.60,31.70 L704.30,30.90 L706.80,36.70 L709.30,40.90 L711.80,41.70 L714.30,44.20 L716.80,45.90 L719.30,45.10 L721.90,43.40 L724.40,42.60 L726.90,45.10 L729.40,51.80 L731.10,58.50 L733.60,61.00 L736.10,60.10 L738.60,62.60 L741.20,66.80 L743.70,61.00 L746.10,54.30 L748.60,52.60 L750.30,47.60 L752.20,43.40" fill="none" stroke="#0000ff" stroke-width="1.9" stroke-linejoin="round"/>
<path d="M586.10,202.50 L587.70,208.30 L588.90,203.40 L590.50,170.00 L592.70,133.00 L593.30,118.00 L594.00,110.00 L594.60,102.00 L595.60,94.00 L597.00,86.00 L598.70,79.00 L599.30,75.00 L601.30,71.50 L603.90,64.70 L605.40,61.80 L607.70,59.50 L610.10,57.70 L611.80,55.40 L613.60,51.30 L615.30,46.70 L617.10,45.50 L618.80,42.60 L620.60,47.20 L622.30,51.90 L624.10,57.10 L625.80,53.10 L627.60,53.70 L628.60,56.00 L629.90,50.10 L631.50,46.80 L634.00,43.40 L636.50,45.10 L639.00,48.40 L641.50,51.80 L644.00,54.30 L646.60,51.80 L649.10,49.30 L651.60,45.10 L654.10,42.60 L656.60,41.70 L659.10,42.60 L661.60,44.20 L664.10,44.20 L666.60,45.10 L669.10,46.80 L671.70,49.30 L674.20,51.80 L675.80,56.00 L677.20,57.60 L679.20,50.90 L681.70,48.40 L684.20,50.10 L686.70,50.90 L689.20,52.60 L691.70,51.80 L694.20,50.90 L696.80,49.30 L699.30,45.90 L701.80,42.60 L704.30,45.90 L706.80,43.40 L709.30,41.70 L711.80,43.40 L714.30,46.80 L716.80,50.10 L719.30,46.80 L721.90,43.40 L724.40,41.40 L726.90,40.10 L729.40,43.40 L731.90,46.80 L734.40,42.60 L737.70,30.00 L740.30,36.70 L742.80,42.60 L745.30,37.60 L747.80,35.90 L750.30,36.70 L752.20,37.60" fill="none" stroke="#000000" stroke-width="1.9" stroke-linejoin="round"/>
<path d="M586.10,202.50 L587.70,208.30 L588.90,203.40 L590.50,170.00 L592.70,133.00 L593.60,118.00 L594.50,110.00 L595.40,102.00 L596.50,94.00 L597.90,86.00 L599.50,79.00 L600.50,75.00 L601.60,71.50 L602.80,64.50 L604.80,59.50 L607.10,55.40 L609.50,52.50 L611.20,49.60 L612.40,43.70 L613.60,37.90 L615.10,43.20 L616.50,47.20 L618.20,44.30 L620.00,46.70 L621.70,51.30 L623.50,43.70 L625.80,42.00 L628.10,43.70 L629.90,46.80 L633.20,40.90 L634.80,50.10 L636.50,49.30 L639.00,48.40 L641.50,50.10 L643.20,57.60 L644.90,58.50 L647.40,56.80 L649.90,56.00 L652.40,48.40 L654.90,48.40 L657.40,50.90 L659.90,48.40 L662.40,46.80 L665.00,45.90 L667.50,45.10 L669.10,40.10 L671.10,37.00 L673.30,44.20 L675.80,47.60 L677.80,43.40 L680.00,46.80 L682.20,54.30 L684.20,53.40 L686.70,54.30 L689.20,51.80 L691.70,45.10 L693.40,37.00 L695.90,43.40 L698.40,50.10 L700.90,55.10 L703.40,52.60 L706.00,43.40 L708.50,45.10 L711.00,42.60 L713.50,46.80 L716.00,49.30 L718.50,48.40 L721.00,50.10 L723.50,46.80 L726.00,43.40 L727.70,51.80 L730.20,54.30 L732.70,56.80 L735.20,53.40 L737.70,47.60 L740.30,46.80 L742.80,42.60 L745.30,41.70 L747.80,49.30 L749.50,53.40 L751.10,49.30 L752.20,46.80" fill="none" stroke="#ff0000" stroke-width="1.9" stroke-linejoin="round"/>
<path d="M586.10,202.50 L587.70,208.00 L589.00,200.00 L591.00,186.70 L592.20,171.70 L596.00,130.80 L598.90,119.20 L601.40,110.90 L603.10,100.90 L605.60,91.00 L609.00,81.80 L613.10,78.40 L617.30,78.40 L620.70,75.90 L623.20,75.90 L628.20,71.70 L630.70,69.20 L632.40,65.90 L634.10,71.70 L635.70,75.90 L638.20,69.20 L641.60,66.70 L644.10,71.70 L645.80,74.20 L648.30,69.20 L651.60,75.00 L653.30,80.90 L655.00,83.40 L657.50,80.10 L660.00,79.30 L662.50,72.00 L665.00,75.10 L668.40,76.80 L671.70,71.70 L674.20,66.70 L676.70,69.50 L679.20,74.20 L681.70,68.40 L683.60,65.00 L685.50,71.70 L687.50,75.90 L690.10,73.40 L692.60,68.40 L695.10,73.40 L697.60,75.90 L700.10,78.40 L702.60,82.60 L706.00,85.10 L710.10,86.00 L712.60,80.90 L716.00,81.80 L719.30,79.30 L722.70,78.40 L726.00,79.30 L728.50,70.90 L731.00,75.10 L734.40,75.10 L737.70,75.90 L739.40,85.10 L742.80,85.10 L746.10,85.10 L748.60,84.30 L752.20,88.50" fill="none" stroke="#0000ff" stroke-width="1.9" stroke-linejoin="round" stroke-dasharray="1.9,3.2" stroke-dashoffset="3.21"/>
<path d="M586.10,202.50 L587.70,208.50 L588.90,203.40 L590.50,170.00 L592.70,133.00 L593.90,118.40 L594.80,112.00 L595.40,106.00 L596.50,101.00 L598.00,97.00 L600.60,92.60 L603.30,90.90 L605.00,88.30 L606.40,81.30 L607.60,77.80 L610.30,75.70 L612.00,76.40 L613.80,72.50 L615.50,69.00 L618.10,67.60 L619.90,66.40 L621.60,61.10 L622.90,59.40 L624.30,62.90 L625.50,69.90 L626.90,72.50 L628.60,73.40 L630.40,76.50 L632.00,79.50 L633.90,81.40 L636.20,77.60 L638.60,68.20 L640.60,61.20 L642.40,69.00 L644.80,76.80 L646.30,79.90 L648.70,72.10 L651.00,65.90 L653.30,70.60 L655.70,65.10 L657.70,59.70 L659.90,63.60 L661.90,61.20 L663.90,65.90 L665.80,62.80 L668.10,66.70 L670.10,63.60 L672.00,68.20 L674.30,72.90 L676.70,70.60 L679.00,68.20 L681.30,63.60 L682.90,57.30 L685.20,59.70 L687.20,63.60 L689.10,59.70 L691.40,57.30 L693.80,61.20 L695.90,60.00 L698.40,61.70 L700.90,68.40 L702.90,68.40 L704.60,78.40 L706.30,80.10 L708.50,71.70 L711.00,64.20 L712.60,68.40 L715.20,64.20 L717.70,65.90 L720.20,64.20 L722.70,65.00 L725.20,66.70 L727.70,73.40 L729.90,80.10 L731.90,69.20 L734.40,60.90 L736.90,64.20 L739.10,66.70 L741.10,76.80 L743.60,71.70 L746.10,73.40 L748.60,70.90 L750.30,70.10 L752.20,71.70" fill="none" stroke="#00bfbf" stroke-width="1.9" stroke-linejoin="round"/>
<rect x="389.3" y="25.8" width="94.00" height="68.50" rx="2.2" fill="#fff" fill-opacity="0.8" stroke="#c4c4c4" stroke-width="1.05"/>
<path d="M392.3,32.80 L411.3,32.80" stroke="#0000ff" stroke-width="1.9"/>
<text x="418.10" y="36.30" font-size="9.9" textLength="47.32" lengthAdjust="spacingAndGlyphs">NHD, conv</text>
<path d="M392.3,46.10 L411.3,46.10" stroke="#000000" stroke-width="1.9"/>
<text x="418.12" y="49.60" font-size="9.9" textLength="45.06" lengthAdjust="spacingAndGlyphs">HSS, conv</text>
<path d="M392.3,59.40 L411.3,59.40" stroke="#ff0000" stroke-width="1.9"/>
<text x="418.44" y="62.90" font-size="9.9" textLength="47.71" lengthAdjust="spacingAndGlyphs">QHD, conv</text>
<path d="M392.3,72.70 L411.3,72.70" stroke="#0000ff" stroke-width="1.9" stroke-dasharray="1.9,3.2" stroke-dashoffset="4.55"/>
<text x="418.09" y="76.20" font-size="9.9" textLength="61.40" lengthAdjust="spacingAndGlyphs">NHD, no conv</text>
<path d="M392.3,86.00 L411.3,86.00" stroke="#00bfbf" stroke-width="1.9"/>
<text x="418.10" y="89.50" font-size="9.9" textLength="37.37" lengthAdjust="spacingAndGlyphs">NHD, g6</text>
</svg></body></html>
